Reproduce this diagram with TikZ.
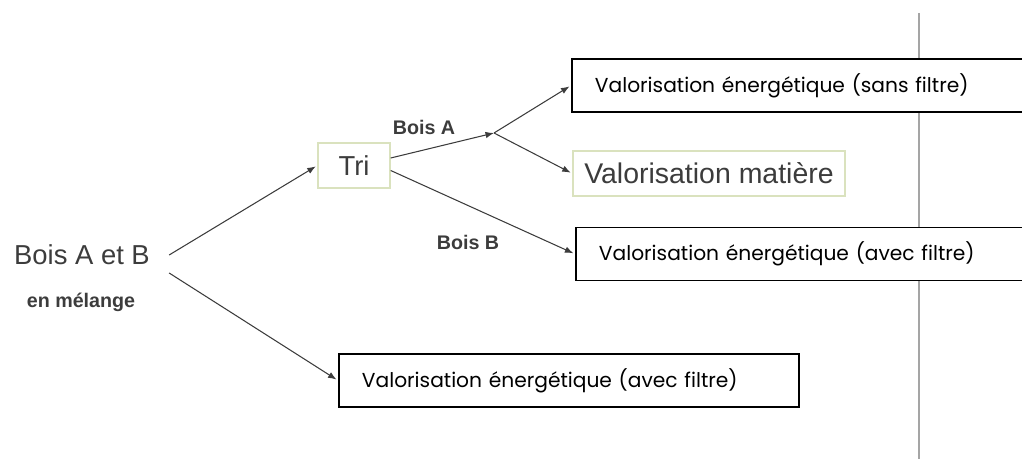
\documentclass[tikz,border=0pt]{standalone}
\usepackage{fontspec}
\setmainfont{Liberation Sans}
\newfontfamily\gothic{Poppins}
\usetikzlibrary{arrows.meta,positioning,calc}
\definecolor{trigreen}{RGB}{218,226,190}
\definecolor{rulegray}{RGB}{165,165,165}
\definecolor{inkgray}{RGB}{60,60,60}

\begin{document}
\begin{tikzpicture}[
  >={Latex[length=1.7mm,width=1.3mm]},
  flow/.style={->,draw=inkgray,line width=0.6pt,shorten >=1pt},
  sortbox/.style={
    draw=trigreen,line width=0.8pt,fill=white,text=inkgray,
    font=\fontsize{15.6}{18}\selectfont,minimum height=0.9cm,inner xsep=2mm
  },
  outbox/.style={
    draw=black,line width=1.1pt,fill=white,anchor=west,
    font=\gothic\fontsize{11.5}{14}\selectfont,
    minimum height=1.06cm,inner xsep=0.46cm,align=left
  },
  lbl/.style={font=\bfseries\fontsize{11.2}{13}\selectfont,text=inkgray,inner sep=0pt}
]

\useasboundingbox (0,0) rectangle (20.44,9.18);
\clip (0,0) rectangle (20.44,9.18);

% ---- page rule, behind the boxes ----
\draw[rulegray,line width=0.8pt] (18.38,8.92) -- (18.38,0);

% ---- source ----
\node[text=inkgray,font=\fontsize{15.6}{18}\selectfont,inner ysep=0pt,inner xsep=0.38cm]
  (bois) at (1.64,4.08) {Bois A et B};
\node[lbl] (mix) at (1.62,3.14) {en mélange};

% ---- sorting branch ----
\node[sortbox,minimum width=1.44cm] (tri) at (7.08,5.87) {Tri};
\coordinate (split) at (9.88,6.52);

\node[outbox,text width=12cm] (eSans) at (11.42,7.47) {Valorisation énergétique (sans filtre)};
\node[sortbox,minimum width=5.44cm,font=\fontsize{16.2}{18}\selectfont] (matiere) at (14.18,5.71) {Valorisation matière};
\node[outbox,text width=12cm] (eAvecB) at (11.50,4.10) {Valorisation énergétique (avec filtre)};

\node[lbl] (lblA) at (8.48,6.64) {Bois A};
\node[lbl] (lblB) at (9.36,4.34) {Bois B};

% ---- mixed branch ----
\node[outbox,text width=8.28cm] (eAvecMix) at (6.76,1.57) {Valorisation énergétique (avec filtre)};

% ---- connectors ----
\draw[flow] (bois.east) -- (tri.west);
\draw[flow] ($(bois.east)+(0,-0.36)$) -- (eAvecMix.west);
\draw[flow,shorten >=0pt] ($(tri.east)+(0,0.15)$) -- (split);
\draw[flow] (split) -- (eSans.west);
\draw[flow] (split) -- (matiere.west);
\draw[flow] ($(tri.east)+(0,-0.1)$) -- (eAvecB.west);

\end{tikzpicture}
\end{document}
